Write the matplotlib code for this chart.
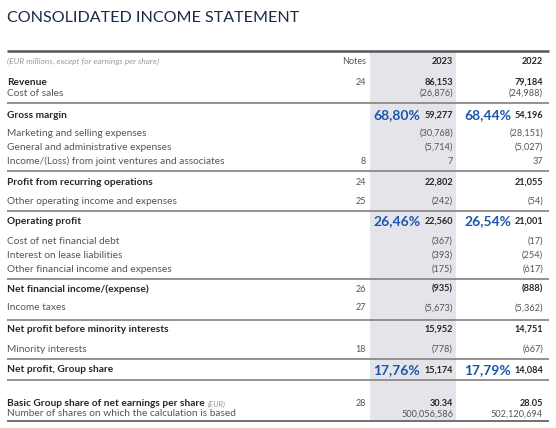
import matplotlib
matplotlib.use('Agg')
import matplotlib.pyplot as plt
from matplotlib.patches import Rectangle

plt.rcParams['font.family'] = ['Lato', 'DejaVu Sans']

labels = ['Revenue', 'Cost of sales', 'Gross margin',
          'Marketing and selling expenses', 'General and administrative expenses',
          'Income/(Loss) from joint ventures and associates',
          'Profit from recurring operations', 'Other operating income and expenses',
          'Operating profit', 'Cost of net financial debt', 'Interest on lease liabilities',
          'Other financial income and expenses', 'Net financial income/(expense)',
          'Income taxes', 'Net profit before minority interests', 'Minority interests',
          'Net profit, Group share', 'Basic Group share of net earnings per share',
          'Number of shares on which the calculation is based']
notes = ['24', '', '', '', '', '8', '24', '25', '', '', '', '', '26', '27', '', '18', '', '28', '']
v2023 = ['86,153', '(26,876)', '59,277', '(30,768)', '(5,714)', '7', '22,802', '(242)',
         '22,560', '(367)', '(393)', '(175)', '(935)', '(5,673)', '15,952', '(778)',
         '15,174', '30.34', '500,056,586']
v2022 = ['79,184', '(24,988)', '54,196', '(28,151)', '(5,027)', '37', '21,055', '(54)',
         '21,001', '(17)', '(254)', '(617)', '(888)', '(5,362)', '14,751', '(667)',
         '14,084', '28.05', '502,120,694']
bold_rows = ['Revenue', 'Gross margin', 'Profit from recurring operations', 'Operating profit',
             'Net financial income/(expense)', 'Net profit before minority interests',
             'Net profit, Group share', 'Basic Group share of net earnings per share']
pct2023 = {'Gross margin': '68,80%', 'Operating profit': '26,46%', 'Net profit, Group share': '17,76%'}
pct2022 = {'Gross margin': '68,44%', 'Operating profit': '26,54%', 'Net profit, Group share': '17,79%'}

# layout (pixels)
row_y = [82, 93, 115, 133, 147, 161, 182, 201, 221, 241, 255, 269, 289, 308, 329, 349, 370, 404, 414]
sep_y = [103, 171, 211, 279, 320, 359, 380]
x_label, x_notes, x_2023, x_2022 = 7, 366, 453, 543

fig = plt.figure(figsize=(5.56, 4.28), dpi=100)
ax = fig.add_axes([0, 0, 1, 1])
ax.set_xlim(0, 556)
ax.set_ylim(428, 0)
ax.axis('off')

dark = '#262626'
grey = '#555555'
blue = '#1b55ad'

ax.text(7, 18, 'CONSOLIDATED INCOME STATEMENT', fontsize=11.6, color='#1b2a47', va='center', ha='left')

ax.add_patch(Rectangle((370, 51), 86, 370, facecolor='#e4e4ea', edgecolor='none', zorder=0))
ax.plot([7, 549], [51, 51], color='#555555', lw=1.8, solid_capstyle='butt')
for y in sep_y:
    ax.plot([7, 549], [y, y], color='#8a8a8a', lw=1.3, solid_capstyle='butt')
ax.plot([7, 549], [421, 421], color='#666666', lw=1.3, solid_capstyle='butt')

ax.text(x_label, 61, '(EUR millions, except for earnings per share)', fontsize=6.0,
        style='italic', color='#9a9a9a', va='center')
ax.text(x_notes, 61, 'Notes', fontsize=6.5, color=grey, va='center', ha='right')
ax.text(x_2023, 61, '2023', fontsize=6.6, color=dark, weight='bold', va='center', ha='right')
ax.text(x_2022, 61, '2022', fontsize=6.6, color=dark, weight='bold', va='center', ha='right')

renderer = fig.canvas.get_renderer()
for lab, note, a, b, y in zip(labels, notes, v2023, v2022, row_y):
    is_bold = lab in bold_rows
    w = 'bold' if is_bold else 'normal'
    c = dark if is_bold else grey
    t = ax.text(x_label, y, lab, fontsize=7.3, weight=w, color=c, va='center', ha='left')
    if lab.startswith('Basic Group'):
        bb = t.get_window_extent(renderer)
        ax.annotate('(EUR)', xy=(bb.x1 + 3, y), xycoords=('figure pixels', 'data'),
                    fontsize=5.6, style='italic', color='#9a9a9a', va='center', ha='left')
    if note:
        ax.text(x_notes, y, note, fontsize=6.5, color=grey, va='center', ha='right')
    ax.text(x_2023, y, a, fontsize=6.6, weight=w, color=c, va='center', ha='right')
    ax.text(x_2022, y, b, fontsize=6.6, weight=w, color=c, va='center', ha='right')
    if lab in pct2023:
        ax.text(373, y, pct2023[lab], fontsize=10, weight='bold', color=blue, va='center', ha='left')
        ax.text(464, y, pct2022[lab], fontsize=10, weight='bold', color=blue, va='center', ha='left')

fig.savefig('out.png', dpi=100)
